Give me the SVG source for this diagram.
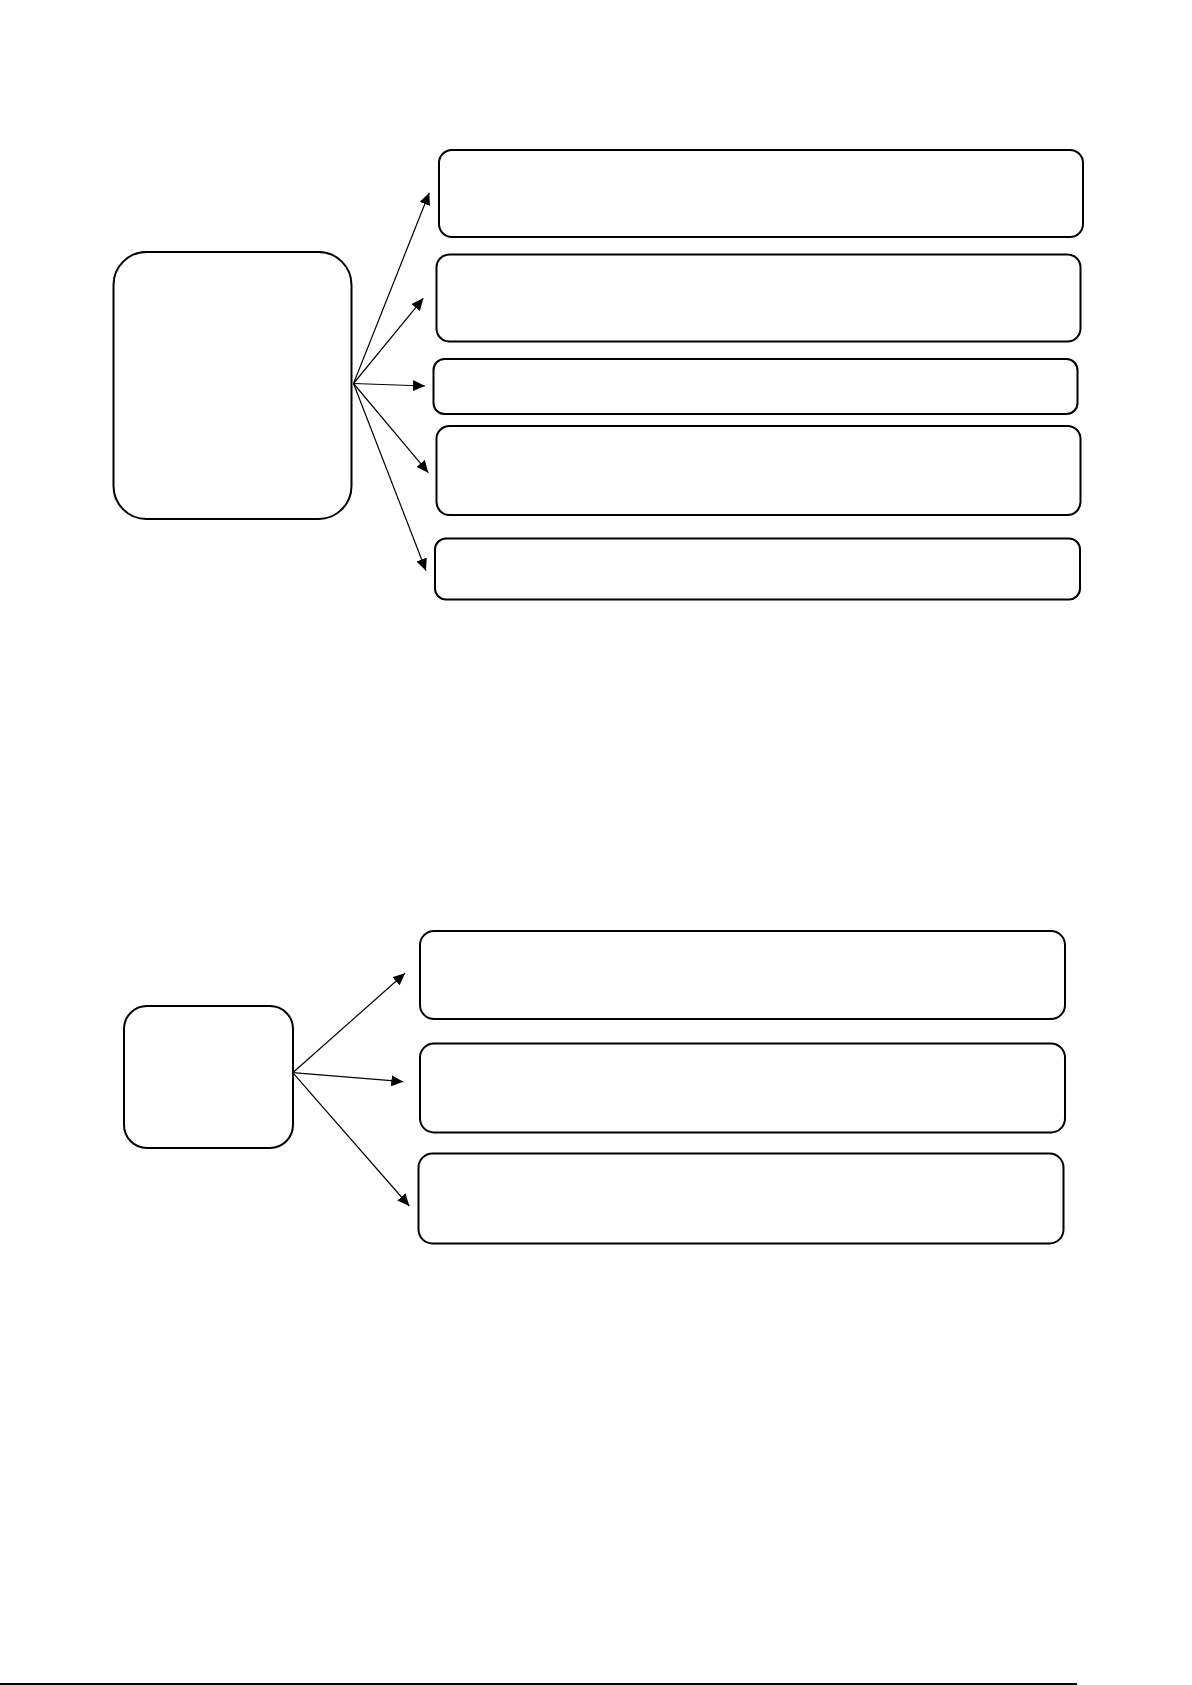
<svg xmlns="http://www.w3.org/2000/svg" width="1192" height="1685" viewBox="0 0 1192 1685">
<defs>
<style>
.box{fill:#fff;stroke:#000;stroke-width:2}
.conn{stroke:#000;stroke-width:1.2;fill:none}
</style>
<marker id="ah" viewBox="0 0 12 11" refX="12" refY="5.5" markerWidth="12" markerHeight="11" markerUnits="userSpaceOnUse" orient="auto">
<path d="M0,0 L12,5.5 L0,11 Z" fill="#000"/>
</marker>
</defs>
<rect width="1192" height="1685" fill="#fff"/>
<g id="n-main1"><rect class="box" x="113.5" y="252" width="238" height="267" rx="33"/></g>
<g id="n-a1"><rect class="box" x="439" y="150" width="644" height="87" rx="13"/></g>
<g id="n-a2"><rect class="box" x="436.5" y="254.5" width="644" height="87" rx="13"/></g>
<g id="n-a3"><rect class="box" x="433.5" y="359" width="644" height="55" rx="11"/></g>
<g id="n-a4"><rect class="box" x="436.5" y="426" width="644" height="89" rx="13"/></g>
<g id="n-a5"><rect class="box" x="435" y="538.5" width="645" height="61" rx="11"/></g>
<g id="n-main2"><rect class="box" x="124" y="1006" width="169" height="142" rx="23"/></g>
<g id="n-b1"><rect class="box" x="420" y="931" width="645" height="88" rx="14"/></g>
<g id="n-b2"><rect class="box" x="420" y="1043.5" width="645" height="89" rx="14"/></g>
<g id="n-b3"><rect class="box" x="418.5" y="1153.5" width="645" height="90" rx="14"/></g>
<g id="connectors">
<line class="conn" x1="353.5" y1="383.5" x2="429.3" y2="192.7" marker-end="url(#ah)"/>
<line class="conn" x1="353.5" y1="383.5" x2="423.3" y2="298.3" marker-end="url(#ah)"/>
<line class="conn" x1="353.5" y1="383.5" x2="425" y2="386" marker-end="url(#ah)"/>
<line class="conn" x1="353.5" y1="383.5" x2="428.3" y2="472.7" marker-end="url(#ah)"/>
<line class="conn" x1="353.5" y1="383.5" x2="426" y2="570.7" marker-end="url(#ah)"/>
<line class="conn" x1="292.7" y1="1072.7" x2="405" y2="973.3" marker-end="url(#ah)"/>
<line class="conn" x1="292.7" y1="1072.7" x2="403.3" y2="1081.7" marker-end="url(#ah)"/>
<line class="conn" x1="292.7" y1="1072.7" x2="409.3" y2="1206" marker-end="url(#ah)"/>
</g>
<line x1="0" y1="1684" x2="1077" y2="1684" stroke="#000" stroke-width="2"/>
</svg>
